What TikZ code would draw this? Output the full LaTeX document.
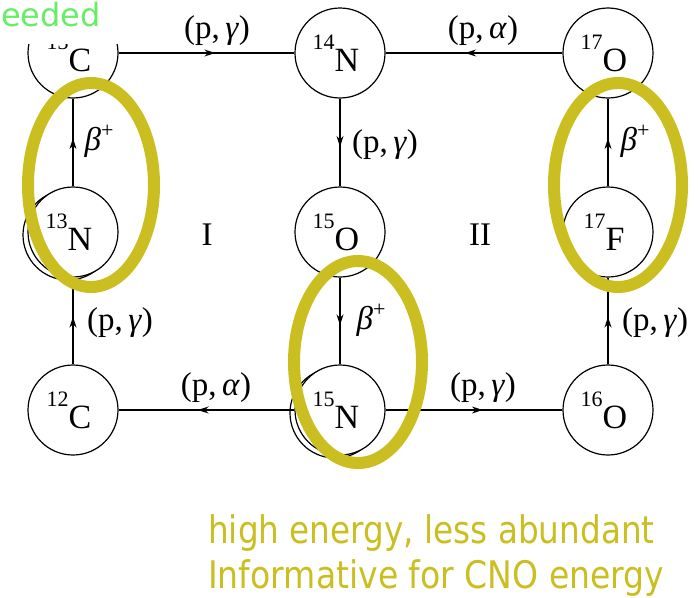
\documentclass[tikz,border=0pt]{standalone}
\usepackage{fontspec}
\setmainfont{Liberation Serif}
\newfontfamily\slidefont{DejaVu Sans}
\usetikzlibrary{arrows.meta,decorations.markings}
\definecolor{hilite}{RGB}{202,190,32}
\definecolor{seedgreen}{RGB}{102,238,102}
\newcommand\nucl[2]{\raisebox{22pt}{\fontsize{22}{22}\selectfont #1}#2\kern8pt}
\tikzset{
  nuc/.style={circle, draw, line width=1.2pt, minimum size=90pt, inner sep=0pt, fill=white,
              font=\fontsize{34}{34}\selectfont},
  ghost/.style={circle, draw, line width=1.2pt, minimum size=90pt, inner sep=0pt},
  flow/.style={line width=1.2pt, postaction={decorate},
    decoration={markings, mark=at position 0.55 with {\arrow{Stealth[length=11pt,width=7pt]}}}},
  lbl/.style={font=\fontsize{33}{33}\selectfont, inner sep=0pt},
  ring/.style={draw=hilite, line width=12pt},
  slide/.style={inner sep=0pt, anchor=base west},
}
\begin{document}
\begin{tikzpicture}[x=1pt,y=-1pt]
\useasboundingbox (0,0) rectangle (698,597);
% ghost outlines
\node[ghost] (N13g) at (68,235) {};
\node[ghost] (N15g) at (335,413) {};
% nuclei
\node[nuc] (C13) at (73,53) {\nucl{13}{C}};
\node[nuc] (N14) at (340,53) {\nucl{14}{N}};
\node[nuc] (O17) at (608,53) {\nucl{17}{O}};
\node[nuc] (N13) at (73,232) {\nucl{13}{N}};
\node[nuc] (O15) at (340,232) {\nucl{15}{O}};
\node[nuc] (F17) at (608,232) {\nucl{17}{F}};
\node[nuc] (C12) at (73,410) {\nucl{12}{C}};
\node[nuc] (N15) at (340,410) {\nucl{15}{N}};
\node[nuc] (O16) at (608,410) {\nucl{16}{O}};
% connectors
\draw[flow] (C12) -- (N13);
\draw[flow] (N13) -- (C13);
\draw[flow] (C13) -- (N14);
\draw[flow] (N14) -- (O15);
\draw[flow] (O15) -- (N15);
\draw[flow] (N15) -- (C12);
\draw[flow] (N15) -- (O16);
\draw[flow] (O16) -- (F17);
\draw[flow] (F17) -- (O17);
\draw[flow] (O17) -- (N14);
% reaction labels
\node[lbl] (l1) at (217,31) {(p,\,\textit{γ})};
\node[lbl] (l2) at (483,31) {(p,\,\textit{α})};
\node[lbl] (l3) at (385,145) {(p,\,\textit{γ})};
\node[lbl] (l4) at (120,323) {(p,\,\textit{γ})};
\node[lbl] (l5) at (655,323) {(p,\,\textit{γ})};
\node[lbl] (l6) at (216,388) {(p,\,\textit{α})};
\node[lbl] (l7) at (483,388) {(p,\,\textit{γ})};
\node[lbl] (b1) at (99,141) {\textit{β}\raisebox{13pt}{\fontsize{22}{22}\selectfont +}};
\node[lbl] (b2) at (371,320) {\textit{β}\raisebox{13pt}{\fontsize{22}{22}\selectfont +}};
\node[lbl] (b3) at (635,141) {\textit{β}\raisebox{13pt}{\fontsize{22}{22}\selectfont +}};
\node[lbl] (I1) at (207,235) {I};
\node[lbl] (I2) at (480,235) {II};
% highlight rings
\draw[ring] (91,185) ellipse [x radius=63pt, y radius=102pt];
\draw[ring] (358,362) ellipse [x radius=64pt, y radius=101pt];
\draw[ring] (618,185) ellipse [x radius=64pt, y radius=102pt];
% slide overlay
\fill[white] (0,0) rectangle (126,44);
\node[slide, text=seedgreen] (seed) at (1,27) {\slidefont\fontsize{32}{32}\selectfont eeded};
\node[slide, text=hilite] (t1) at (208,543) {\scalebox{0.86}[1]{\slidefont\fontsize{38}{38}\selectfont high energy, less abundant}};
\node[slide, text=hilite] (t2) at (208,588) {\scalebox{0.87}[1]{\slidefont\fontsize{38}{38}\selectfont Informative for CNO energy}};
\end{tikzpicture}
\end{document}
